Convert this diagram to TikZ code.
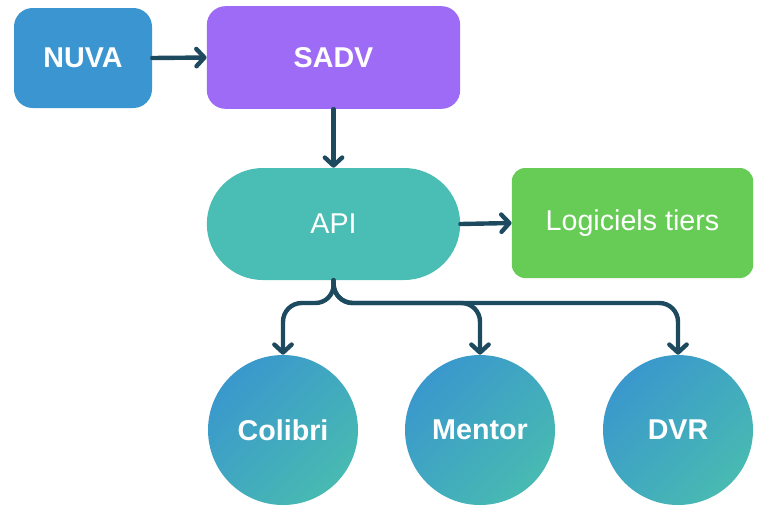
\documentclass[tikz,border=0pt]{standalone}
\usepackage{fontspec}
\setmainfont{Liberation Sans}
\usetikzlibrary{arrows.meta}
\definecolor{nuva}{HTML}{3A95D0}
\definecolor{sadv}{HTML}{9D6BF6}
\definecolor{api}{HTML}{4ABDB4}
\definecolor{logi}{HTML}{66CC55}
\definecolor{arr}{HTML}{1D4A5F}
\definecolor{cblue}{HTML}{3A98CC}
\definecolor{cteal}{HTML}{48BAB2}
\begin{document}
\begin{tikzpicture}[x=0.75pt,y=-0.75pt,
  box/.style={rounded corners=#1, text=white, font=\fontsize{21.5}{26}\selectfont},
  con/.style={draw=arr, line width=3.3pt, line cap=round, line join=round, -{Straight Barb[length=6pt,width=13pt,round]}},
  circ/.style={circle, minimum size=112.5pt, inner sep=0pt, text=white, font=\bfseries\fontsize{21.5}{26}\selectfont, left color=cblue, right color=cteal, shading angle=45}]
\useasboundingbox (0,0) rectangle (773,515);
\node[box=14pt, fill=nuva, minimum width=103.5pt, minimum height=75pt, font=\bfseries\fontsize{21.5}{26}\selectfont] (nuva) at (83,58) {NUVA};
\node[box=14pt, fill=sadv, minimum width=190pt, minimum height=77pt, font=\bfseries\fontsize{21.5}{26}\selectfont] (sadv) at (333.5,57.5) {SADV};
\node[box=42pt, fill=api, minimum width=190pt, minimum height=84pt] (api) at (333.5,224) {API};
\node[box=10pt, fill=logi, minimum width=181pt, minimum height=82.5pt] (logi) at (632.5,223) {Logiciels tiers};
\node[circ] (c1) at (283,430) {Colibri};
\node[circ] (c2) at (480,430) {Mentor};
\node[circ] (c3) at (678,430) {DVR};
\draw[con] (nuva.east) -- (sadv.west);
\draw[con] (sadv.south) -- (api.north);
\draw[con] (api.east) -- (logi.west);
\draw[con, rounded corners=14pt] (api.south) -- (334,303) -| (c1.north);
\draw[con, rounded corners=14pt] (api.south) -- (334,303) -| (c2.north);
\draw[con, rounded corners=14pt] (api.south) -- (334,303) -| (c3.north);
\end{tikzpicture}
\end{document}
